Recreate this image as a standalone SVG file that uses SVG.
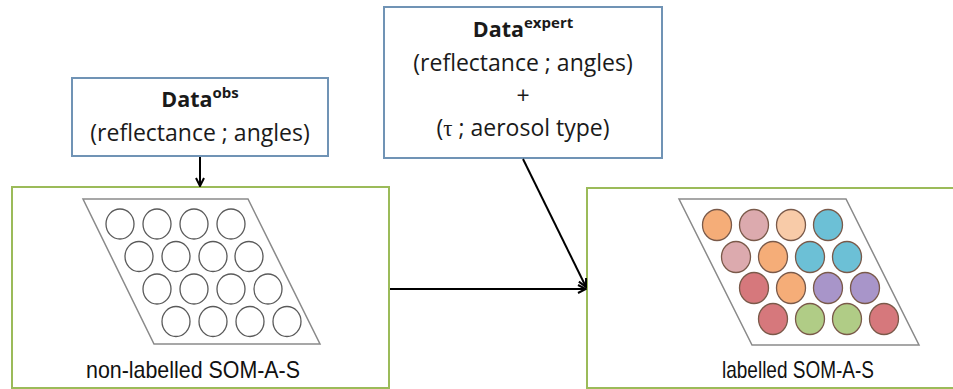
<svg xmlns="http://www.w3.org/2000/svg" width="953" height="389" viewBox="0 0 953 389">
  <defs>
    <style>
      .input { fill: #ffffff; stroke: #7093b5; stroke-width: 2; }
      .panel { fill: #ffffff; stroke: #9bbb59; stroke-width: 2; }
      .grid { fill: #ffffff; stroke: #8a8a8a; stroke-width: 1.5; }
      .unit { fill: #ffffff; stroke: #5a5a5a; stroke-width: 1.3; }
      .cell { stroke: #7a5a4a; stroke-width: 1.3; }
      .head { font-family: "Open Sans", "Noto Sans", sans-serif; font-size: 23px; fill: #1a1a1a; text-anchor: middle; }
      .title { font-weight: bold; font-size: 21.5px; }
      .sup { font-size: 15px; font-weight: bold; }
      .greek { font-family: "Liberation Serif", "DejaVu Serif", serif; }
      .label { font-family: "Liberation Sans", Arial, sans-serif; font-size: 24px; fill: #111111; text-anchor: middle; }
      .link { fill: none; stroke: #000000; stroke-width: 2; marker-end: url(#chevron); }
      .c-orange { fill: #f5ad78; }
      .c-pink { fill: #dcaaae; }
      .c-peach { fill: #f8cba8; }
      .c-blue { fill: #6cc0d6; }
      .c-red { fill: #d6787c; }
      .c-purple { fill: #a895c9; }
      .c-green { fill: #b0cc86; }
    </style>
    <marker id="chevron" viewBox="0 0 10 10" refX="9" refY="5" markerWidth="10" markerHeight="10" markerUnits="userSpaceOnUse" orient="auto">
      <polyline points="1,1 9,5 1,9" fill="none" stroke="#000000" stroke-width="2"/>
    </marker>
  </defs>

  <rect width="953" height="389" fill="#ffffff"/>

  <!-- input data, observed -->
  <g id="data-obs">
    <rect class="input" x="72" y="78" width="256" height="78"/>
    <text class="head" x="200" y="107"><tspan class="title">Data</tspan><tspan class="sup" dy="-9">obs</tspan></text>
    <text class="head" x="200" y="141">(reflectance ; angles)</text>
  </g>

  <!-- input data, expert -->
  <g id="data-expert">
    <rect class="input" x="384" y="7" width="278" height="151"/>
    <text class="head" x="523" y="37"><tspan class="title">Data</tspan><tspan class="sup" dy="-9">expert</tspan></text>
    <text class="head" x="523" y="71">(reflectance ; angles)</text>
    <text class="head" x="523" y="104">+</text>
    <text class="head" x="523" y="136">(<tspan class="greek">τ</tspan> ; aerosol type)</text>
  </g>

  <!-- map before labelling -->
  <g id="som-unlabelled">
    <rect class="panel" x="12" y="187" width="377" height="201"/>
    <polygon class="grid" points="83,199 248,199 320,344 154,344"/>
    <ellipse class="unit" cx="120" cy="224" rx="14" ry="15"/>
    <ellipse class="unit" cx="157" cy="224" rx="14" ry="15"/>
    <ellipse class="unit" cx="194" cy="224" rx="14" ry="15"/>
    <ellipse class="unit" cx="231" cy="224" rx="14" ry="15"/>
    <ellipse class="unit" cx="139" cy="256.5" rx="14" ry="15"/>
    <ellipse class="unit" cx="176" cy="256.5" rx="14" ry="15"/>
    <ellipse class="unit" cx="213" cy="256.5" rx="14" ry="15"/>
    <ellipse class="unit" cx="249" cy="256.5" rx="14" ry="15"/>
    <ellipse class="unit" cx="157" cy="289" rx="14" ry="15"/>
    <ellipse class="unit" cx="194" cy="289" rx="14" ry="15"/>
    <ellipse class="unit" cx="231" cy="289" rx="14" ry="15"/>
    <ellipse class="unit" cx="268" cy="289" rx="14" ry="15"/>
    <ellipse class="unit" cx="176" cy="321.5" rx="14" ry="15"/>
    <ellipse class="unit" cx="213" cy="321.5" rx="14" ry="15"/>
    <ellipse class="unit" cx="250" cy="321.5" rx="14" ry="15"/>
    <ellipse class="unit" cx="287" cy="321.5" rx="14" ry="15"/>
    <text class="label" x="193" y="378" textLength="214" lengthAdjust="spacingAndGlyphs">non-labelled SOM-A-S</text>
  </g>

  <!-- map after labelling -->
  <g id="som-labelled">
    <rect class="panel" x="587" y="188" width="380" height="200"/>
    <polygon class="grid" points="679,199 846,199 919,345 752,345"/>
    <ellipse class="cell c-orange" cx="717" cy="225" rx="14.5" ry="15.5"/>
    <ellipse class="cell c-pink" cx="754" cy="225" rx="14.5" ry="15.5"/>
    <ellipse class="cell c-peach" cx="791" cy="225" rx="14.5" ry="15.5"/>
    <ellipse class="cell c-blue" cx="828" cy="225" rx="14.5" ry="15.5"/>
    <ellipse class="cell c-pink" cx="736" cy="257" rx="14.5" ry="15.5"/>
    <ellipse class="cell c-orange" cx="773" cy="257" rx="14.5" ry="15.5"/>
    <ellipse class="cell c-blue" cx="810" cy="257" rx="14.5" ry="15.5"/>
    <ellipse class="cell c-blue" cx="847" cy="257" rx="14.5" ry="15.5"/>
    <ellipse class="cell c-red" cx="754" cy="288" rx="14.5" ry="15.5"/>
    <ellipse class="cell c-orange" cx="791" cy="288" rx="14.5" ry="15.5"/>
    <ellipse class="cell c-purple" cx="828" cy="288" rx="14.5" ry="15.5"/>
    <ellipse class="cell c-purple" cx="865" cy="288" rx="14.5" ry="15.5"/>
    <ellipse class="cell c-red" cx="773" cy="319" rx="14.5" ry="15.5"/>
    <ellipse class="cell c-green" cx="810" cy="319" rx="14.5" ry="15.5"/>
    <ellipse class="cell c-green" cx="847" cy="319" rx="14.5" ry="15.5"/>
    <ellipse class="cell c-red" cx="884" cy="319" rx="14.5" ry="15.5"/>
    <text class="label" x="798" y="378" textLength="152" lengthAdjust="spacingAndGlyphs">labelled SOM-A-S</text>
  </g>

  <!-- connectors -->
  <g id="connectors">
    <line class="link" x1="200" y1="157" x2="200" y2="186"/>
    <line class="link" x1="523" y1="159" x2="586" y2="287"/>
    <line class="link" x1="390" y1="289" x2="586" y2="289"/>
  </g>
</svg>
